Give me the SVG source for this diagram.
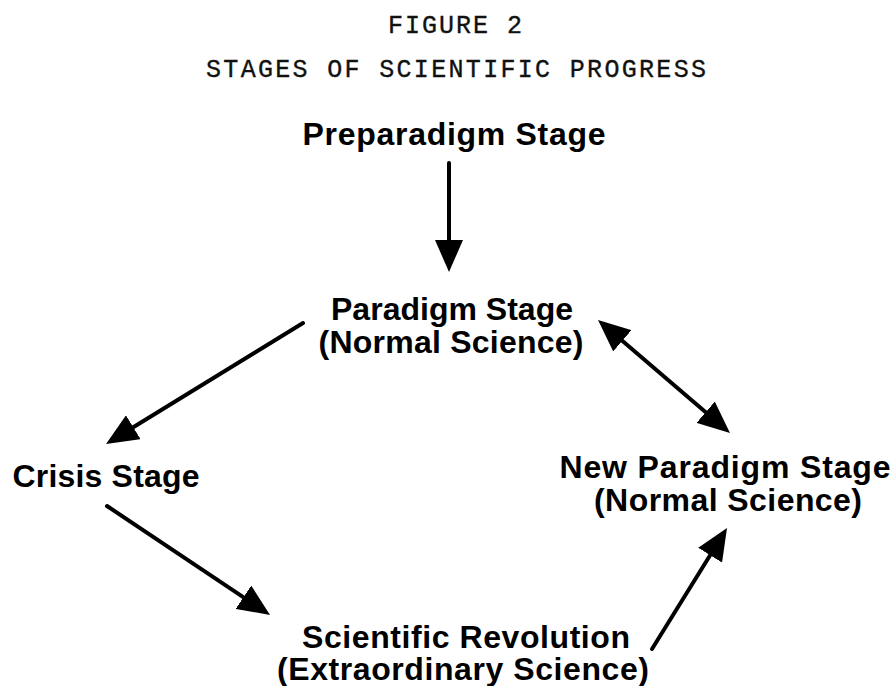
<svg xmlns="http://www.w3.org/2000/svg" width="896" height="686" viewBox="0 0 896 686">
  <defs>
    <style>
      .title { font-family: "Liberation Mono", "DejaVu Sans Mono", monospace; font-size: 25px; fill: #111; stroke: #111; stroke-width: 0.35; text-anchor: middle; }
      .stage { font-family: "Liberation Sans", Arial, sans-serif; font-weight: bold; font-size: 32px; fill: #000; text-anchor: middle; }
      .link { stroke: #000; stroke-width: 4; stroke-linecap: round; fill: none; }
    </style>
    <marker id="head" markerUnits="userSpaceOnUse" viewBox="0 0 32 28" refX="2" refY="14" markerWidth="32" markerHeight="28" orient="auto-start-reverse">
      <path d="M0,0 L32,14 L0,28 Z" fill="#000"/>
    </marker>
  </defs>
  <rect width="896" height="686" fill="#fff"/>

  <!-- headings -->
  <g id="heading">
    <text class="title" x="455" y="33" textLength="134" lengthAdjust="spacing">FIGURE 2</text>
    <text class="title" x="456" y="77" textLength="500" lengthAdjust="spacing">STAGES OF SCIENTIFIC PROGRESS</text>
  </g>

  <!-- stages -->
  <g id="preparadigm">
    <text class="stage" x="454" y="145" font-size="33" textLength="303" lengthAdjust="spacing">Preparadigm Stage</text>
  </g>
  <g id="paradigm">
    <text class="stage" x="452" y="320" textLength="242" lengthAdjust="spacing">Paradigm Stage</text>
    <text class="stage" x="451" y="353" textLength="265" lengthAdjust="spacing">(Normal Science)</text>
  </g>
  <g id="crisis">
    <text class="stage" x="106" y="487" textLength="187" lengthAdjust="spacing">Crisis Stage</text>
  </g>
  <g id="revolution">
    <text class="stage" x="466" y="648" textLength="328" lengthAdjust="spacing">Scientific Revolution</text>
    <text class="stage" x="463" y="680" textLength="372" lengthAdjust="spacing">(Extraordinary Science)</text>
  </g>
  <g id="new-paradigm">
    <text class="stage" x="725" y="478" textLength="331" lengthAdjust="spacing">New Paradigm Stage</text>
    <text class="stage" x="728" y="511" textLength="268" lengthAdjust="spacing">(Normal Science)</text>
  </g>

  <!-- connectors -->
  <g id="connectors">
    <line class="link" x1="449" y1="163" x2="449" y2="242" marker-end="url(#head)"/>
    <line class="link" x1="303" y1="323" x2="131.6" y2="428.3" marker-end="url(#head)"/>
    <line class="link" x1="107" y1="506" x2="245.1" y2="598.3" marker-end="url(#head)"/>
    <line class="link" x1="652" y1="649" x2="711.2" y2="553.5" marker-end="url(#head)"/>
    <line class="link" x1="620.8" y1="339.5" x2="707.2" y2="413.5" marker-start="url(#head)" marker-end="url(#head)"/>
  </g>
</svg>
